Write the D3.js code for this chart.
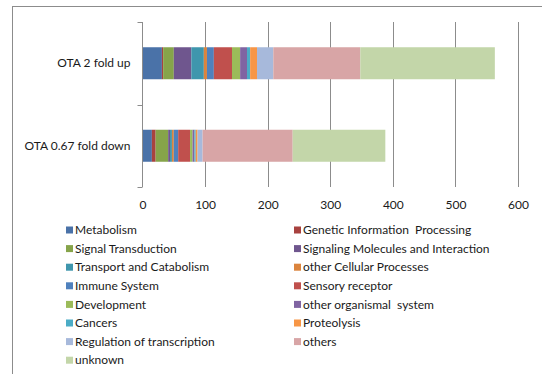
<!DOCTYPE html>
<html>
<head>
<meta charset="utf-8">
<script src="https://cdn.jsdelivr.net/npm/d3@7"></script>
<style>
  html, body { margin: 0; padding: 0; background: #fff; }
  svg { display: block; }
  text { font-family: Lato, "Liberation Sans", Arial, sans-serif; fill: #1a1a1a; white-space: pre; }
</style>
</head>
<body>
<svg id="chart" width="542" height="374"></svg>
<script>
// Categories (top to bottom) and pathway groups (stack order, left to right)
const categories = ["OTA 2 fold up", "OTA 0.67 fold down"];
const groups = [
  "Metabolism", "Genetic Information  Processing", "Signal Transduction",
  "Signaling Molecules and Interaction", "Transport and Catabolism",
  "other Cellular Processes", "Immune System", "Sensory receptor",
  "Development", "other organismal  system", "Cancers", "Proteolysis",
  "Regulation of transcription", "others", "unknown"
];
// Gene counts per group, one array per category
const upCounts   = [31, 2, 17, 28, 20, 5, 11, 29, 13, 11, 5, 11, 26, 139, 215];
const downCounts = [15, 6, 20, 3, 3, 3, 7, 19, 4, 3, 2, 3, 8, 144, 148];
const xTicks = [0, 100, 200, 300, 400, 500, 600];
const colors = [
  "#4A72A8", "#A8423F", "#86A44A", "#6F568E", "#3F96AD",
  "#DB843D", "#4F81BD", "#C0504D", "#9BBB59", "#8064A2",
  "#4BACC6", "#F79646", "#A7B9DB", "#D8A5A6", "#C3D6A9"
];

const svg = d3.select("#chart");
const plot = { left: 142.5, right: 518, top: 22, bottom: 187 };
const fontSize = 12;

// Outer chart frame
svg.append("rect")
  .attr("x", 12.5).attr("y", 6.5)
  .attr("width", 600).attr("height", 400)
  .attr("fill", "none").attr("stroke", "#8c8c8c").attr("stroke-width", 1);

const x = d3.scaleLinear().domain([0, 600]).range([plot.left, plot.right]);
const y = d3.scaleBand().domain(categories)
  .range([plot.top, plot.bottom]).paddingInner(0.612).paddingOuter(0.306);

// Vertical gridlines
svg.append("g").selectAll("line").data(xTicks.slice(1)).join("line")
  .attr("x1", d => Math.round(x(d)) + 0.5).attr("x2", d => Math.round(x(d)) + 0.5)
  .attr("y1", plot.top).attr("y2", plot.bottom)
  .attr("stroke", "#8c8c8c").attr("stroke-width", 1);

// Stacked bars
const rows = categories.map((c, i) => {
  const o = { category: c };
  const vals = i === 0 ? upCounts : downCounts;
  groups.forEach((g, j) => { o[g] = vals[j]; });
  return o;
});
const series = d3.stack().keys(groups)(rows);
svg.append("g").selectAll("g").data(series).join("g")
  .attr("fill", (d, i) => colors[i])
  .selectAll("rect").data(d => d).join("rect")
  .attr("x", d => x(d[0]))
  .attr("width", d => x(d[1]) - x(d[0]))
  .attr("y", d => y(d.data.category))
  .attr("height", y.bandwidth());

// Category axis on the left
const yAxisG = svg.append("g").attr("transform", `translate(${plot.left},0)`);
yAxisG.append("line")
  .attr("x1", 0).attr("x2", 0).attr("y1", plot.top).attr("y2", plot.bottom)
  .attr("stroke", "#8c8c8c");
const bounds = [plot.top, plot.top + (plot.bottom - plot.top) / 2, plot.bottom];
yAxisG.selectAll("line.tk").data(bounds).join("line").attr("class", "tk")
  .attr("x1", -5).attr("x2", 0)
  .attr("y1", d => Math.round(d) + 0.5).attr("y2", d => Math.round(d) + 0.5)
  .attr("stroke", "#8c8c8c");
yAxisG.selectAll("text").data(categories).join("text")
  .attr("x", -12).attr("y", d => y(d) + y.bandwidth() / 2)
  .attr("dy", "0.35em").attr("text-anchor", "end")
  .attr("font-size", fontSize).text(d => d);

// Value tick labels
const xAxis = d3.axisBottom(x).tickValues(xTicks).tickSize(0).tickPadding(0);
const xAxisG = svg.append("g").attr("transform", `translate(0,${plot.bottom})`).call(xAxis);
xAxisG.select(".domain").remove();
xAxisG.selectAll("text").attr("y", 13).attr("font-size", fontSize)
  .attr("font-family", "Lato, Liberation Sans, Arial, sans-serif").attr("fill", "#1a1a1a");

// Legend in two columns
const legend = svg.append("g");
const item = legend.selectAll("g").data(groups).join("g")
  .attr("transform", (d, i) => {
    const col = i % 2, row = Math.floor(i / 2);
    return `translate(${col === 0 ? 66 : 294},${230 + row * 18.6})`;
  });
item.append("rect")
  .attr("x", 0).attr("y", -3.5).attr("width", 7).attr("height", 7)
  .attr("fill", (d, i) => colors[i]);
item.append("text")
  .attr("x", 9).attr("dy", "0.35em").attr("font-size", fontSize)
  .text(d => d);
</script>
</body>
</html>
